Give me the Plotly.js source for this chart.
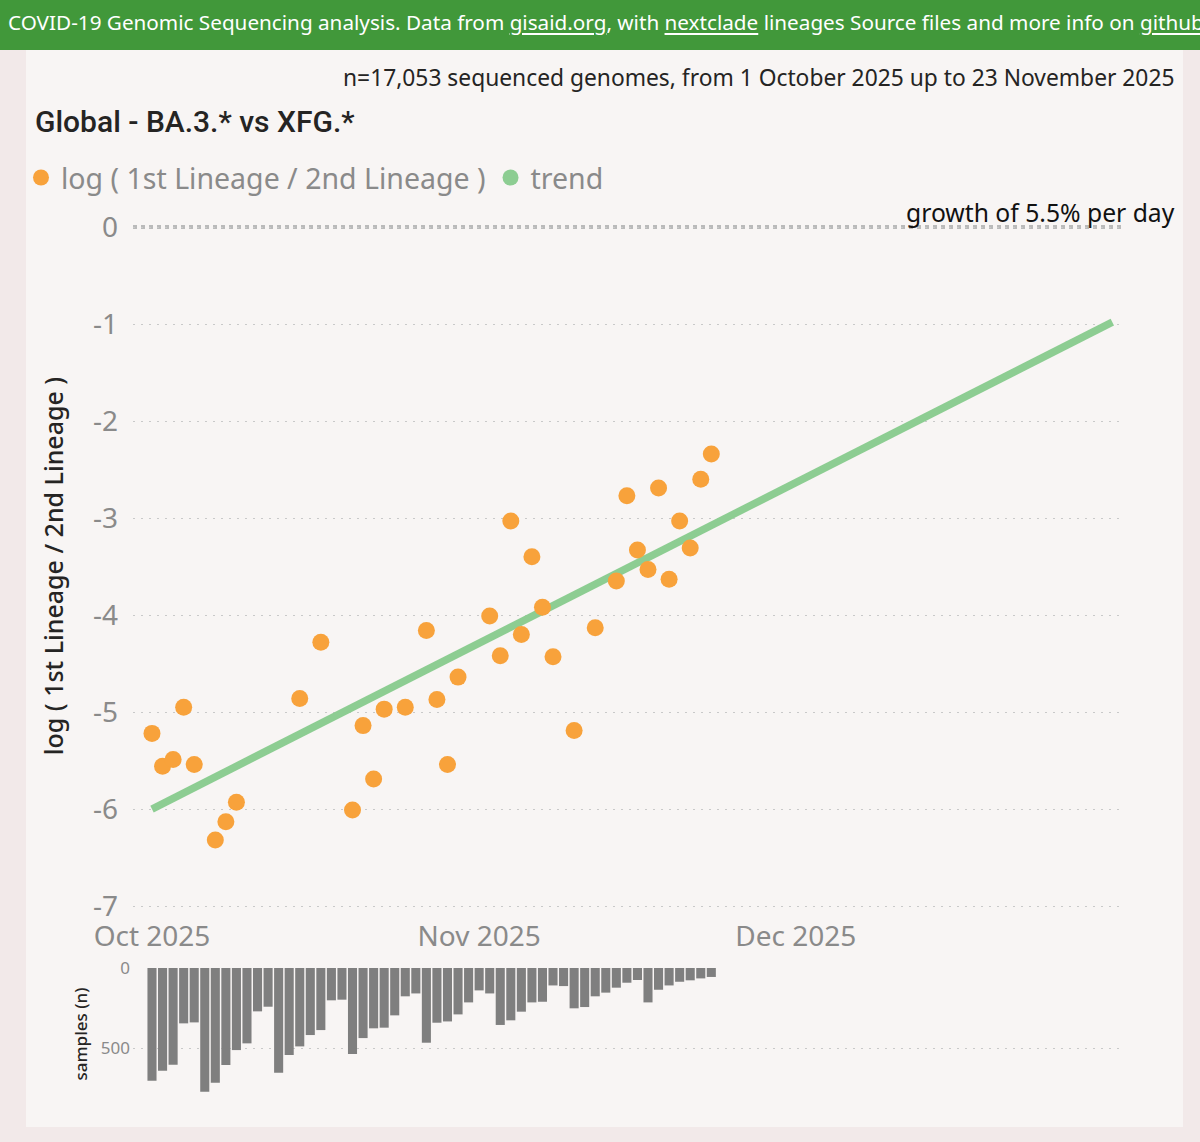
<!DOCTYPE html>
<html>
<head>
<meta charset="utf-8">
<script src="https://cdn.plot.ly/plotly-3.0.1.min.js"></script>
<style>
  body { margin: 0; background: #f2e9e9; width: 1200px; height: 1142px; overflow: hidden; position: relative; font-family: "Noto Sans", "Open Sans", sans-serif; }
  #header { position: absolute; left: 0; top: 0; width: 1200px; height: 50px; background: #41983a; color: #fff;
            font-size: 20.7px; line-height: 45px; padding-left: 8px; white-space: nowrap; overflow: hidden; box-sizing: border-box; }
  #header u { text-underline-offset: 3px; }
  #panel { position: absolute; left: 26px; top: 50px; width: 1157px; height: 1077px; background: #f8f5f4; }
  #chart { position: absolute; left: 0; top: 0; width: 1200px; height: 1142px; }
</style>
</head>
<body>
<div id="header">COVID-19 Genomic Sequencing analysis. Data from <u>gisaid.org</u>, with <u>nextclade</u> lineages Source files and more info on <u>github</u></div>
<div id="panel"></div>
<div id="chart"></div>
<script>
// log ratio per day (only days where the 1st lineage was seen)
var pointDates = ['2025-10-01','2025-10-02','2025-10-03','2025-10-04','2025-10-05','2025-10-07','2025-10-08','2025-10-09',
  '2025-10-15','2025-10-17','2025-10-20','2025-10-21','2025-10-22','2025-10-23','2025-10-25','2025-10-27','2025-10-28',
  '2025-10-29','2025-10-30','2025-11-02','2025-11-03','2025-11-04','2025-11-05','2025-11-06','2025-11-07','2025-11-08',
  '2025-11-10','2025-11-12','2025-11-14','2025-11-15','2025-11-16','2025-11-17','2025-11-18','2025-11-19','2025-11-20',
  '2025-11-21','2025-11-22','2025-11-23'];
var logRatio = [-5.22,-5.56,-5.49,-4.95,-5.54,-6.32,-6.13,-5.93,
  -4.86,-4.28,-6.01,-5.14,-5.69,-4.97,-4.95,-4.16,-4.87,
  -5.54,-4.64,-4.01,-4.42,-3.03,-4.20,-3.40,-3.92,-4.43,
  -5.19,-4.13,-3.65,-2.77,-3.33,-3.53,-2.69,-3.63,-3.03,
  -3.31,-2.60,-2.34];

// fitted trend
var trendDates = ['2025-10-01','2025-12-31'];
var trendValues = [-6.0, -0.98];

// samples per day
var sampleDates = ['2025-10-01','2025-10-02','2025-10-03','2025-10-04','2025-10-05','2025-10-06','2025-10-07','2025-10-08',
  '2025-10-09','2025-10-10','2025-10-11','2025-10-12','2025-10-13','2025-10-14','2025-10-15','2025-10-16','2025-10-17',
  '2025-10-18','2025-10-19','2025-10-20','2025-10-21','2025-10-22','2025-10-23','2025-10-24','2025-10-25','2025-10-26',
  '2025-10-27','2025-10-28','2025-10-29','2025-10-30','2025-10-31','2025-11-01','2025-11-02','2025-11-03','2025-11-04',
  '2025-11-05','2025-11-06','2025-11-07','2025-11-08','2025-11-09','2025-11-10','2025-11-11','2025-11-12','2025-11-13',
  '2025-11-14','2025-11-15','2025-11-16','2025-11-17','2025-11-18','2025-11-19','2025-11-20','2025-11-21','2025-11-22',
  '2025-11-23'];
var sampleCounts = [704,642,604,346,340,773,717,606,513,471,271,242,654,544,490,419,388,202,198,538,
  438,377,373,296,177,159,467,342,334,290,215,140,159,356,327,273,215,211,109,113,
  252,244,177,154,123,92,75,215,136,109,86,77,65,56];

var monthTicks = ['2025-10-01','2025-11-01','2025-12-01'];
var monthLabels = ['Oct 2025','Nov 2025','Dec 2025'];
var logTicks = [-7,-6,-5,-4,-3,-2,-1,0];
var logTickLabels = ['-7','-6','-5','-4','-3','-2','-1','0'];
var sampleTicks = [0,500];

var W = 1200, H = 1142;
function fx(px) { return px / W }
function fy(py) { return 1 - py / H }

var orange = '#f8a23b', green = '#8dcd92', grey = '#8a8a8a';
var font = '"Noto Sans", "Open Sans", sans-serif';

var traces = [
  {
    x: trendDates, y: trendValues, type: 'scatter', mode: 'lines', name: 'trend',
    line: { color: green, width: 7.5 }, showlegend: false, hoverinfo: 'skip'
  },
  {
    x: pointDates, y: logRatio, type: 'scatter', mode: 'markers',
    name: 'log ( 1st Lineage / 2nd Lineage )',
    marker: { color: orange, size: 17 }
  },
  {
    // legend entry for the trend, drawn as a dot like the original
    x: [null], y: [null], type: 'scatter', mode: 'markers', name: 'trend',
    marker: { color: green, size: 17 }
  },
  {
    x: sampleDates, y: sampleCounts, type: 'bar', xaxis: 'x2', yaxis: 'y2',
    marker: { color: '#7f7f7f' }, showlegend: false
  }
];

var layout = {
  width: W, height: H,
  margin: { l: 0, r: 0, t: 0, b: 0 },
  paper_bgcolor: 'rgba(0,0,0,0)',
  plot_bgcolor: 'rgba(0,0,0,0)',
  font: { family: font, color: grey },
  bargap: 0.14,
  title: {
    text: 'Global - BA.3.* vs XFG.*',
    x: fx(35), xanchor: 'left', y: fy(121), yanchor: 'middle',
    font: { family: 'Roboto, "DejaVu Sans Condensed", sans-serif', size: 30, color: '#252423', weight: 500 }
  },
  legend: {
    orientation: 'h', x: fx(21), xanchor: 'left', y: fy(178), yanchor: 'middle',
    font: { size: 28.5, color: grey }, bgcolor: 'rgba(0,0,0,0)', itemwidth: 30,
    traceorder: 'normal'
  },
  xaxis: {
    type: 'date', domain: [fx(133), fx(1125)], anchor: 'y',
    range: ['2025-09-29 04:48', '2026-01-01 04:48'],
    tickvals: monthTicks, ticktext: monthLabels,
    showgrid: false, zeroline: false, showline: false, ticks: '',
    tickfont: { size: 28, color: grey }
  },
  yaxis: {
    domain: [fy(917), fy(215)], anchor: 'x',
    range: [-7.113, 0.124], tickvals: logTicks, ticktext: logTickLabels,
    showgrid: true, gridcolor: '#c9c9c9', griddash: '2px,6px', gridwidth: 1,
    zeroline: false, showline: false, ticks: '', ticklabelstandoff: 14,
    tickfont: { size: 28, color: grey },
    title: { text: 'log ( 1st Lineage / 2nd Lineage )', standoff: 22, font: { size: 25, color: '#252423', weight: 500 } }
  },
  xaxis2: {
    type: 'date', domain: [fx(133), fx(1125)], anchor: 'y2', matches: 'x',
    showticklabels: false, showgrid: false, zeroline: false, showline: false, ticks: ''
  },
  yaxis2: {
    domain: [fy(1100), fy(968)], anchor: 'x2',
    range: [825, 0], tickvals: sampleTicks,
    showgrid: true, gridcolor: '#c9c9c9', griddash: '2px,6px', gridwidth: 1,
    zeroline: false, showline: false, ticks: '', ticklabelstandoff: 2,
    tickfont: { size: 17, color: grey },
    title: { text: 'samples (n)', standoff: 8, font: { size: 17, color: '#252423', weight: 500 } }
  },
  shapes: [
    {
      type: 'line', xref: 'x domain', yref: 'y', x0: 0, x1: 1, y0: 0, y1: 0,
      line: { color: '#bababa', width: 4, dash: '4px,4px' }, layer: 'below'
    }
  ],
  annotations: [
    {
      text: 'n=17,053 sequenced genomes, from 1 October 2025 up to 23 November 2025',
      xref: 'paper', yref: 'paper', x: fx(1177), y: fy(77), xanchor: 'right', yanchor: 'middle',
      showarrow: false, font: { size: 22.8, color: '#252423' }
    },
    {
      text: 'growth of 5.5% per day',
      xref: 'paper', yref: 'paper', x: fx(1177), y: fy(212), xanchor: 'right', yanchor: 'middle',
      showarrow: false, font: { size: 24.7, color: '#111111' }
    }
  ]
};

Plotly.newPlot('chart', traces, layout, { displayModeBar: false, staticPlot: true });
</script>
</body>
</html>
